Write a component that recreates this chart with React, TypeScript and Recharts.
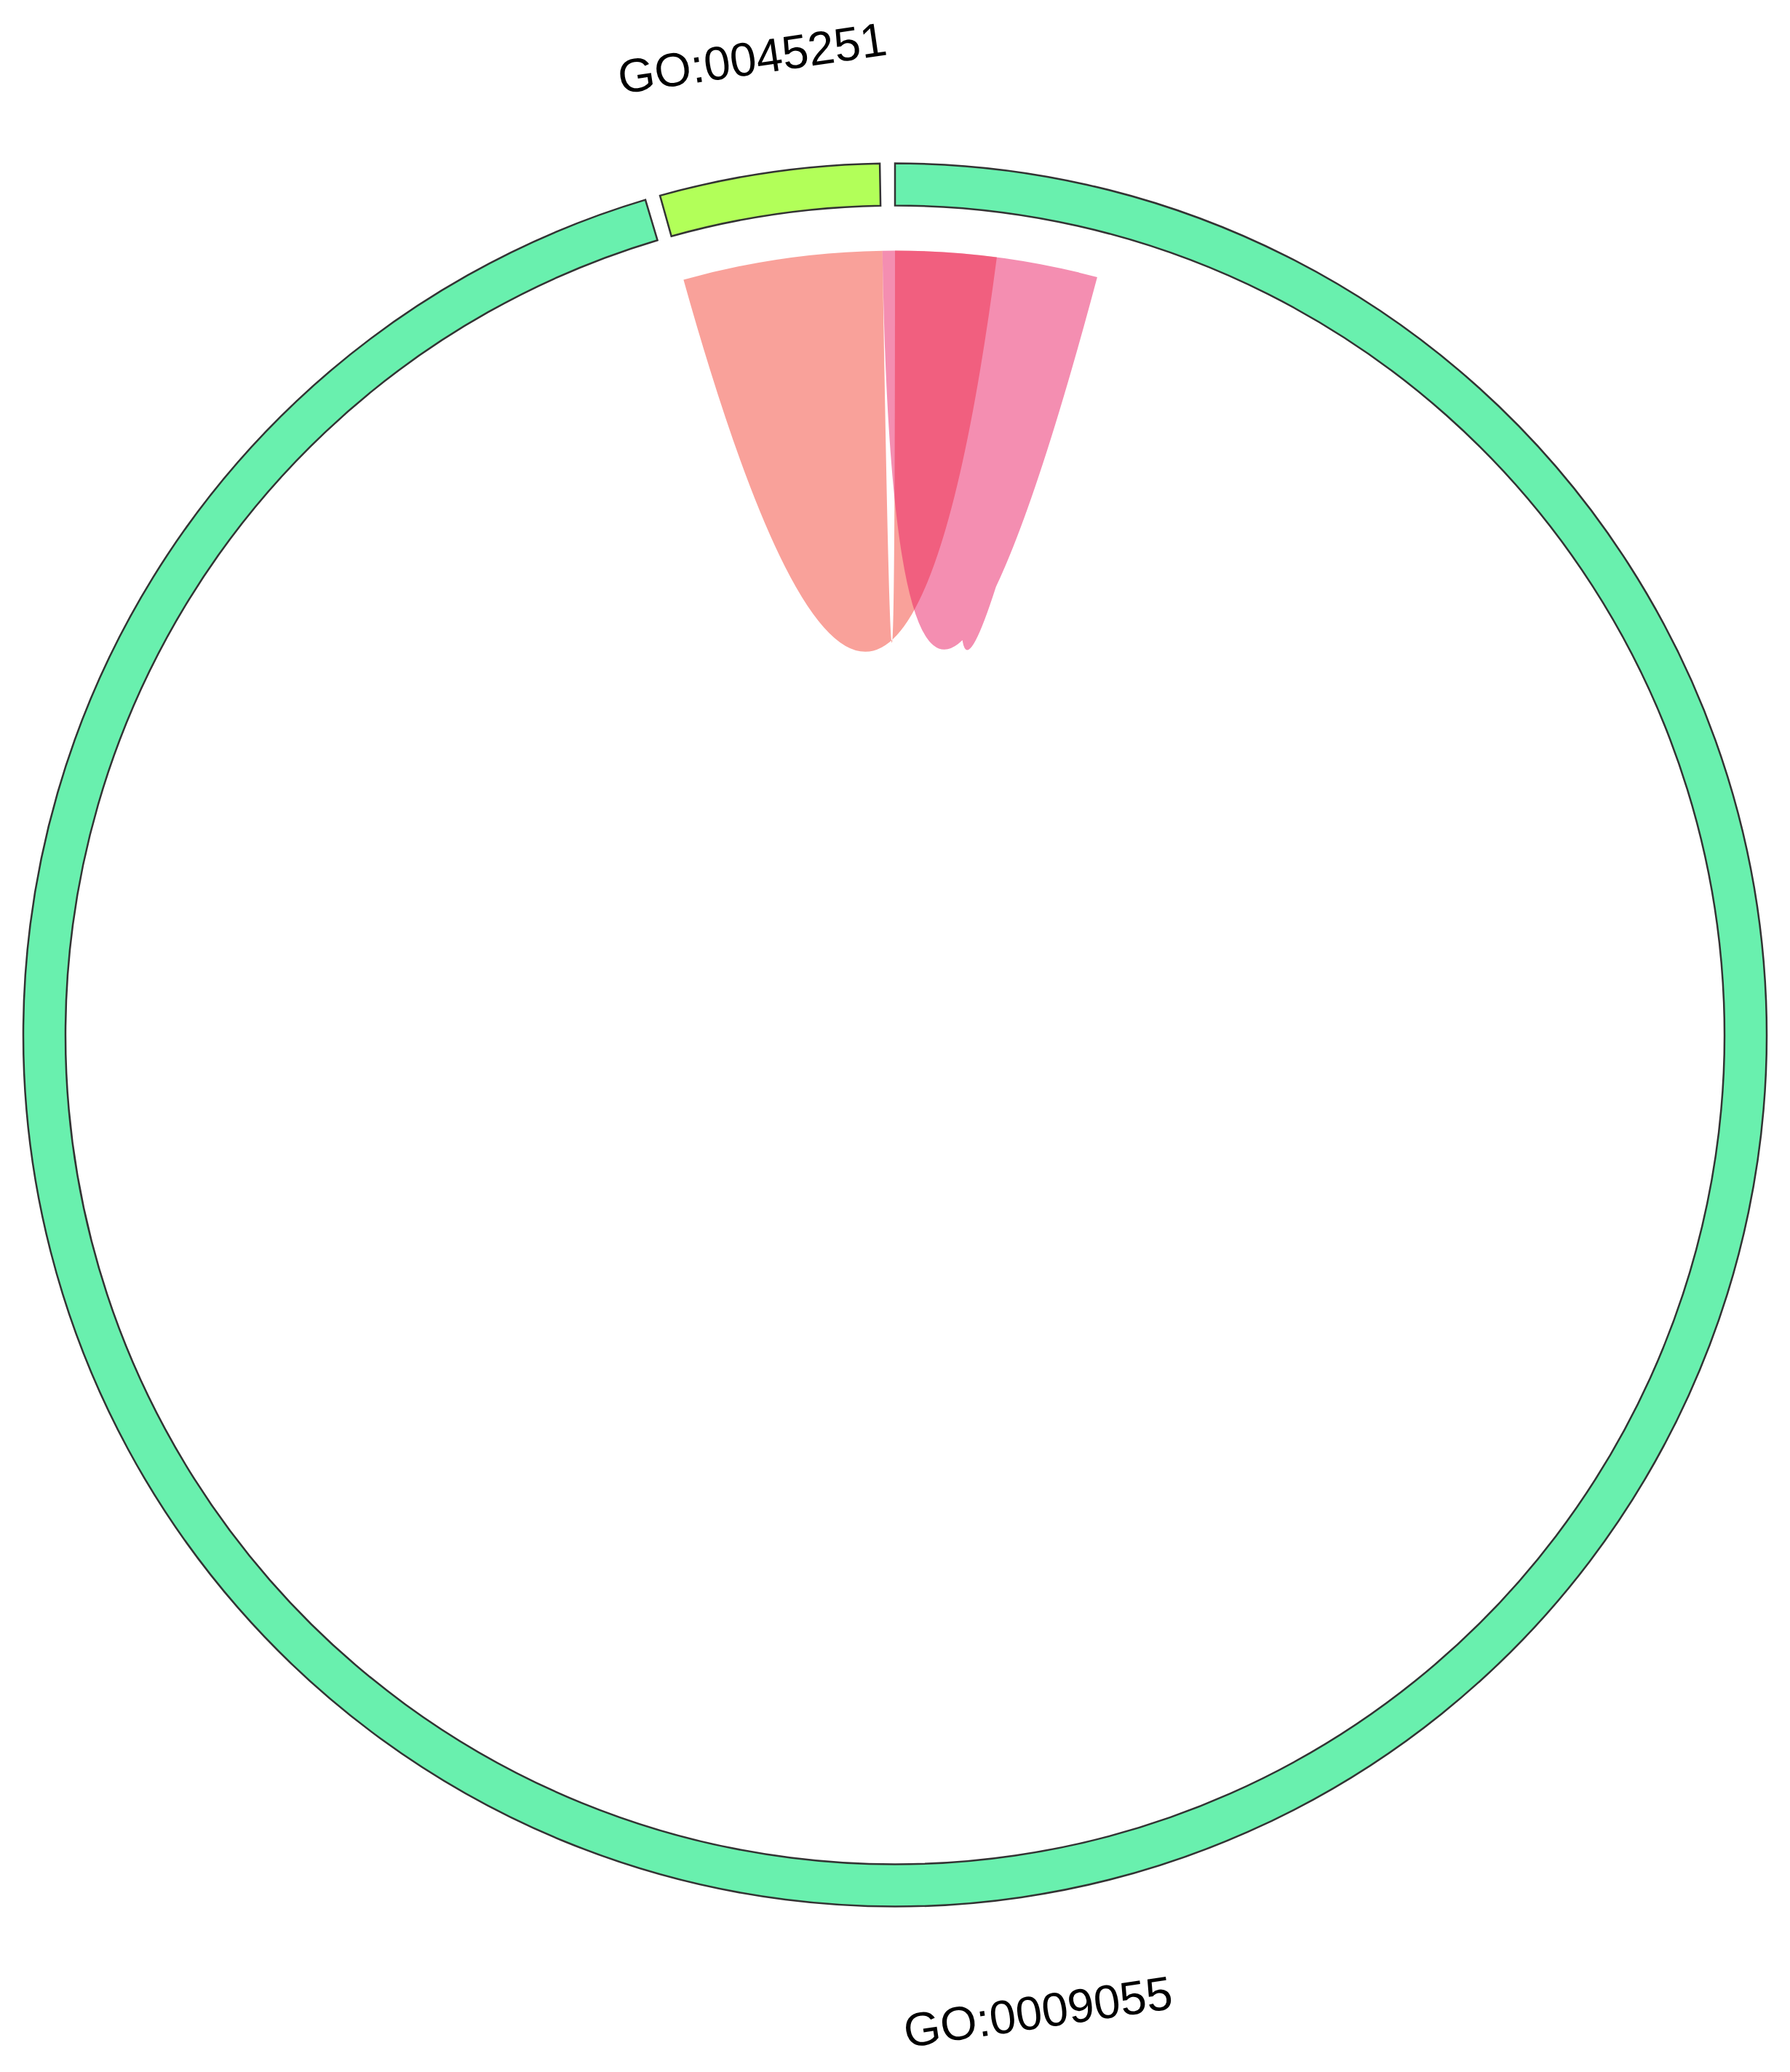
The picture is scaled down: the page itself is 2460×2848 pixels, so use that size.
import React from 'react';
import { PieChart, Pie, Cell, Customized } from 'recharts';

// ---- data ----
const sectorNames = ['GO:0009055', 'GO:0045251'];
const sectorValues = [343.36, 14.64];
const sectorColors = ['#69F0AE', '#B2FF59'];

// link ends: sector index + [from, to] offsets (value units inside that sector)
const linkSourceSector = [1, 0];
const linkSourceRange = [
  [0, 14.72],
  [-0.92, 13.57],
];
const linkTargetSector = [0, 0];
const linkTargetRange = [
  [0, 7.46],
  [7.57, 14.94],
];
const linkColors = ['#F44336', '#E91E63'];

// ---- layout ----
const W = 2460;
const H = 2848;
const CX = 1230;
const CY = 1422.5;
const OUTER = 1198;
const INNER = 1140;
const LINK_R = 1078;
const LABEL_R = 1357;
const START = 90;
const END = -270;
const PAD = 1;

const pieData = sectorNames.map((name, i) => ({ name, value: sectorValues[i] }));

// same angular scale as the Pie (compass degrees, clockwise from top)
const total = sectorValues.reduce((a, b) => a + b, 0);
const degPer = (Math.abs(END - START) - sectorValues.length * PAD) / total;
const sectorStart: number[] = [];
{
  let acc = 0;
  sectorValues.forEach((v) => {
    sectorStart.push(acc);
    acc += v * degPer + PAD;
  });
}
const angleOf = (sector: number, offset: number) => sectorStart[sector] + offset * degPer;

const pt = (deg: number, r: number) => {
  const a = (deg * Math.PI) / 180;
  return [CX + r * Math.sin(a), CY - r * Math.cos(a)];
};

function ribbonPath(s0: number, s1: number, t0: number, t1: number) {
  const R = LINK_R;
  const [ax, ay] = pt(s0, R);
  const [bx, by] = pt(s1, R);
  const [cx, cy] = pt(t0, R);
  const [dx, dy] = pt(t1, R);
  const la1 = Math.abs(s1 - s0) > 180 ? 1 : 0;
  const la2 = Math.abs(t1 - t0) > 180 ? 1 : 0;
  return (
    `M${ax},${ay}A${R},${R} 0 ${la1} 1 ${bx},${by}` +
    `Q${CX},${CY} ${cx},${cy}` +
    `A${R},${R} 0 ${la2} 1 ${dx},${dy}` +
    `Q${CX},${CY} ${ax},${ay}Z`
  );
}

const Overlay = () => {
  return (
    <g>
      {linkColors.map((color, i) => {
        const s0 = angleOf(linkSourceSector[i], linkSourceRange[i][0]);
        const s1 = angleOf(linkSourceSector[i], linkSourceRange[i][1]);
        const t0 = angleOf(linkTargetSector[i], linkTargetRange[i][0]);
        const t1 = angleOf(linkTargetSector[i], linkTargetRange[i][1]);
        return <path key={`l${i}`} d={ribbonPath(s0, s1, t0, t1)} fill={color} fillOpacity={0.5} stroke="none" />;
      })}
      {sectorNames.map((name, i) => {
        const mid = sectorStart[i] + (sectorValues[i] * degPer) / 2;
        const [x, y] = pt(mid, LABEL_R);
        let rot = ((mid % 360) + 360) % 360;
        if (rot > 180) rot -= 360;
        if (rot > 90) rot -= 180;
        else if (rot < -90) rot += 180;
        return (
          <text
            key={`t${i}`}
            x={x}
            y={y}
            transform={`rotate(${rot} ${x} ${y})`}
            textAnchor="middle"
            dominantBaseline="central"
            fontSize={65}
            fontFamily="'Liberation Sans', Arial, sans-serif"
            fill="#000"
          >
            {name}
          </text>
        );
      })}
    </g>
  );
};

export default function App() {
  return (
    <div style={{ position: 'absolute', left: 0, top: 0, width: W, height: H, background: '#fff' }}>
      <PieChart width={W} height={H} margin={{ top: 0, right: 0, bottom: 0, left: 0 }}>
        <Pie
          data={pieData}
          dataKey="value"
          nameKey="name"
          cx={CX}
          cy={CY}
          innerRadius={INNER}
          outerRadius={OUTER}
          startAngle={START}
          endAngle={END}
          paddingAngle={PAD}
          stroke="#333333"
          strokeWidth={2.5}
          label={false}
          labelLine={false}
          isAnimationActive={false}
        >
          {pieData.map((d, i) => (
            <Cell key={d.name} fill={sectorColors[i]} stroke="#333333" strokeWidth={2.5} />
          ))}
        </Pie>
        <Customized component={<Overlay />} />
      </PieChart>
    </div>
  );
}
